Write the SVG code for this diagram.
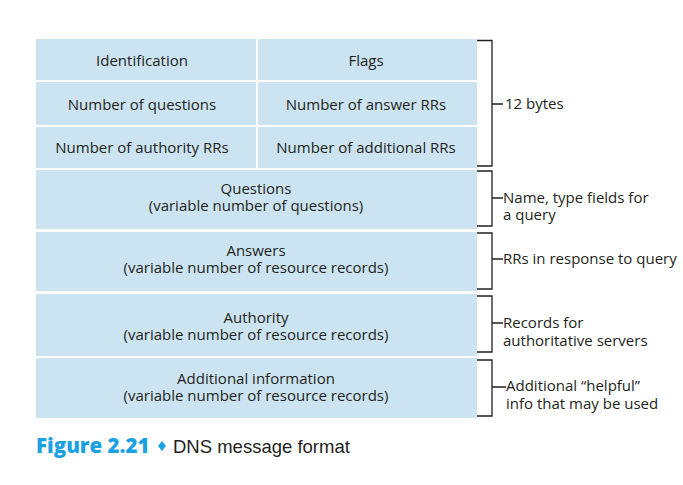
<svg xmlns="http://www.w3.org/2000/svg" width="683" height="485" viewBox="0 0 683 485">
<style>
.box{fill:#cce4f2;}
.t{font-family:"Open Sans","Liberation Sans",sans-serif;font-size:15px;fill:#231f20;}
.c{text-anchor:middle;}
.br{fill:none;stroke:#231f20;stroke-width:1.3;}
.cap{font-family:"Open Sans","Liberation Sans",sans-serif;font-size:20.5px;font-weight:800;fill:#1ba1e2;}
.cap2{font-family:"Liberation Sans","Open Sans",sans-serif;font-size:18.5px;fill:#231f20;}
</style>
<rect width="683" height="485" fill="#ffffff"/>
<g id="identification"><rect class="box" x="36" y="39" width="220" height="41"/><text class="t c" x="142" y="66">Identification</text></g>
<g id="flags"><rect class="box" x="258" y="39" width="219" height="41"/><text class="t c" x="366" y="66">Flags</text></g>
<g id="num-questions"><rect class="box" x="36" y="82" width="220" height="43"/><text class="t c" x="142" y="110">Number of questions</text></g>
<g id="num-answer"><rect class="box" x="258" y="82" width="219" height="43"/><text class="t c" x="366" y="110">Number of answer RRs</text></g>
<g id="num-authority"><rect class="box" x="36" y="127" width="220" height="41"/><text class="t c" x="142" y="153">Number of authority RRs</text></g>
<g id="num-additional"><rect class="box" x="258" y="127" width="219" height="41"/><text class="t c" x="366" y="153">Number of additional RRs</text></g>
<g id="questions"><rect class="box" x="36" y="170" width="441" height="59"/><text class="t c" x="256" y="194">Questions</text><text class="t c" x="256" y="211">(variable number of questions)</text></g>
<g id="answers"><rect class="box" x="36" y="232" width="441" height="59"/><text class="t c" x="256" y="256">Answers</text><text class="t c" x="256" y="273">(variable number of resource records)</text></g>
<g id="authority"><rect class="box" x="36" y="294" width="441" height="62"/><text class="t c" x="256" y="323">Authority</text><text class="t c" x="256" y="340">(variable number of resource records)</text></g>
<g id="additional"><rect class="box" x="36" y="358" width="441" height="60"/><text class="t c" x="256" y="384">Additional information</text><text class="t c" x="256" y="401">(variable number of resource records)</text></g>
<g id="connectors">
<path class="br" d="M477 40.5H492V166H477M492 104H503"/>
<path class="br" d="M477 171H492V226H477M492 198H503"/>
<path class="br" d="M477 233H492V289H477M492 259H503"/>
<path class="br" d="M477 296H492V352H477M492 323H503"/>
<path class="br" d="M477 360H492V416H477M492 387H506"/>
</g>
<g id="labels">
<text class="t" x="505" y="109">12 bytes</text>
<text class="t" x="503" y="203">Name, type fields for</text>
<text class="t" x="503" y="220">a query</text>
<text class="t" x="503" y="264">RRs in response to query</text>
<text class="t" x="503" y="328">Records for</text>
<text class="t" x="503" y="346">authoritative servers</text>
<text class="t" x="506" y="391">Additional “helpful”</text>
<text class="t" x="506" y="409">info that may be used</text>
</g>
<g id="caption">
<text class="cap" x="36" y="453">Figure 2.21</text>
<path d="M162 441L166 446L162 451L158 446Z" fill="#1ba1e2"/>
<text class="cap2" x="173" y="453">DNS message format</text>
</g>
</svg>
